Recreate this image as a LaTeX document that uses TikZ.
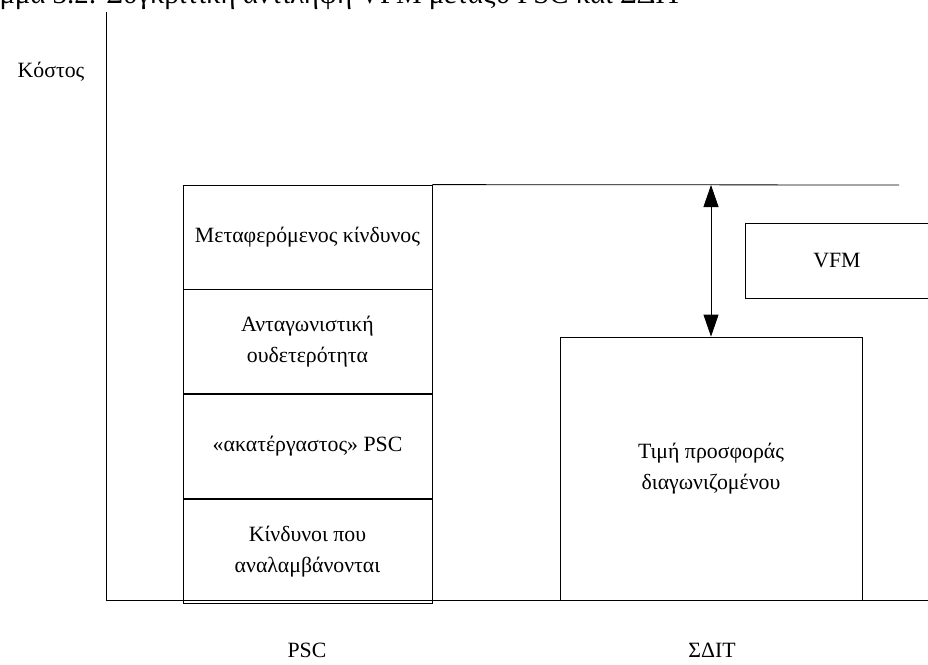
\documentclass[tikz,border=0pt]{standalone}
\usepackage{fontspec}
\setmainfont{Liberation Serif}
\usetikzlibrary{arrows.meta,positioning}

\tikzset{
  cell/.style={draw,minimum width=249pt,minimum height=104pt,align=center,inner sep=0pt},
  lbl/.style={align=center,inner sep=0pt},
  vfmarrow/.style={{Triangle[width=15pt,length=22pt]}-{Triangle[width=15pt,length=22pt]}}
}

\begin{document}
\begin{tikzpicture}[x=1pt,y=-1pt,line width=0.8pt,font=\fontsize{21.8}{31}\selectfont]
        \useasboundingbox (0,0) rectangle (928,664);
        % caption, cut at the top of the page
        \node[anchor=base east,inner sep=0pt,font=\fontsize{28.8}{34}\selectfont] (cap) at (683,3.5) {Διάγραμμα 3.2: Συγκριτική αντίληψη VFM μεταξύ PSC και ΣΔΙΤ};
        % axes
        \coordinate (ytop) at (106,12);
        \coordinate (orig) at (106,600);
        \coordinate (xend) at (928,600);
        \draw (ytop) -- (orig) -- (xend);
        \node[lbl] (cost) at (51,72) {Κόστος};
        % PSC column
        \node[cell] (risk) at (307.5,237) {Μεταφερόμενος κίνδυνος};
        \node[cell,below=0pt of risk] (neutral) {Ανταγωνιστική\\ουδετερότητα};
        \node[cell,below=0pt of neutral] (rawpsc) {«ακατέργαστος» PSC};
        \node[cell,below=0pt of rawpsc] (retained) {Κίνδυνοι που\\αναλαμβάνονται};
        % PPP bid
        \node[draw,minimum width=302pt,minimum height=263pt,align=center,inner sep=0pt] (bid) at (711,468.5) {Τιμή προσφοράς\\διαγωνιζομένου};
        \node[draw,minimum width=184pt,minimum height=75pt,inner sep=0pt] (vfm) at (837,260.5) {VFM};
        % level of the PSC
        \coordinate (pscend) at (899,185);
        \draw (risk.north east) -- (pscend);
        \coordinate (atop) at (711,185);
        \draw[vfmarrow] (atop) -- (bid.north);
        % column labels
        \node[lbl] (psclbl) at (307,650) {PSC};
        \node[lbl] (ppplbl) at (712,650) {ΣΔΙΤ};
      \end{tikzpicture}
\end{document}
